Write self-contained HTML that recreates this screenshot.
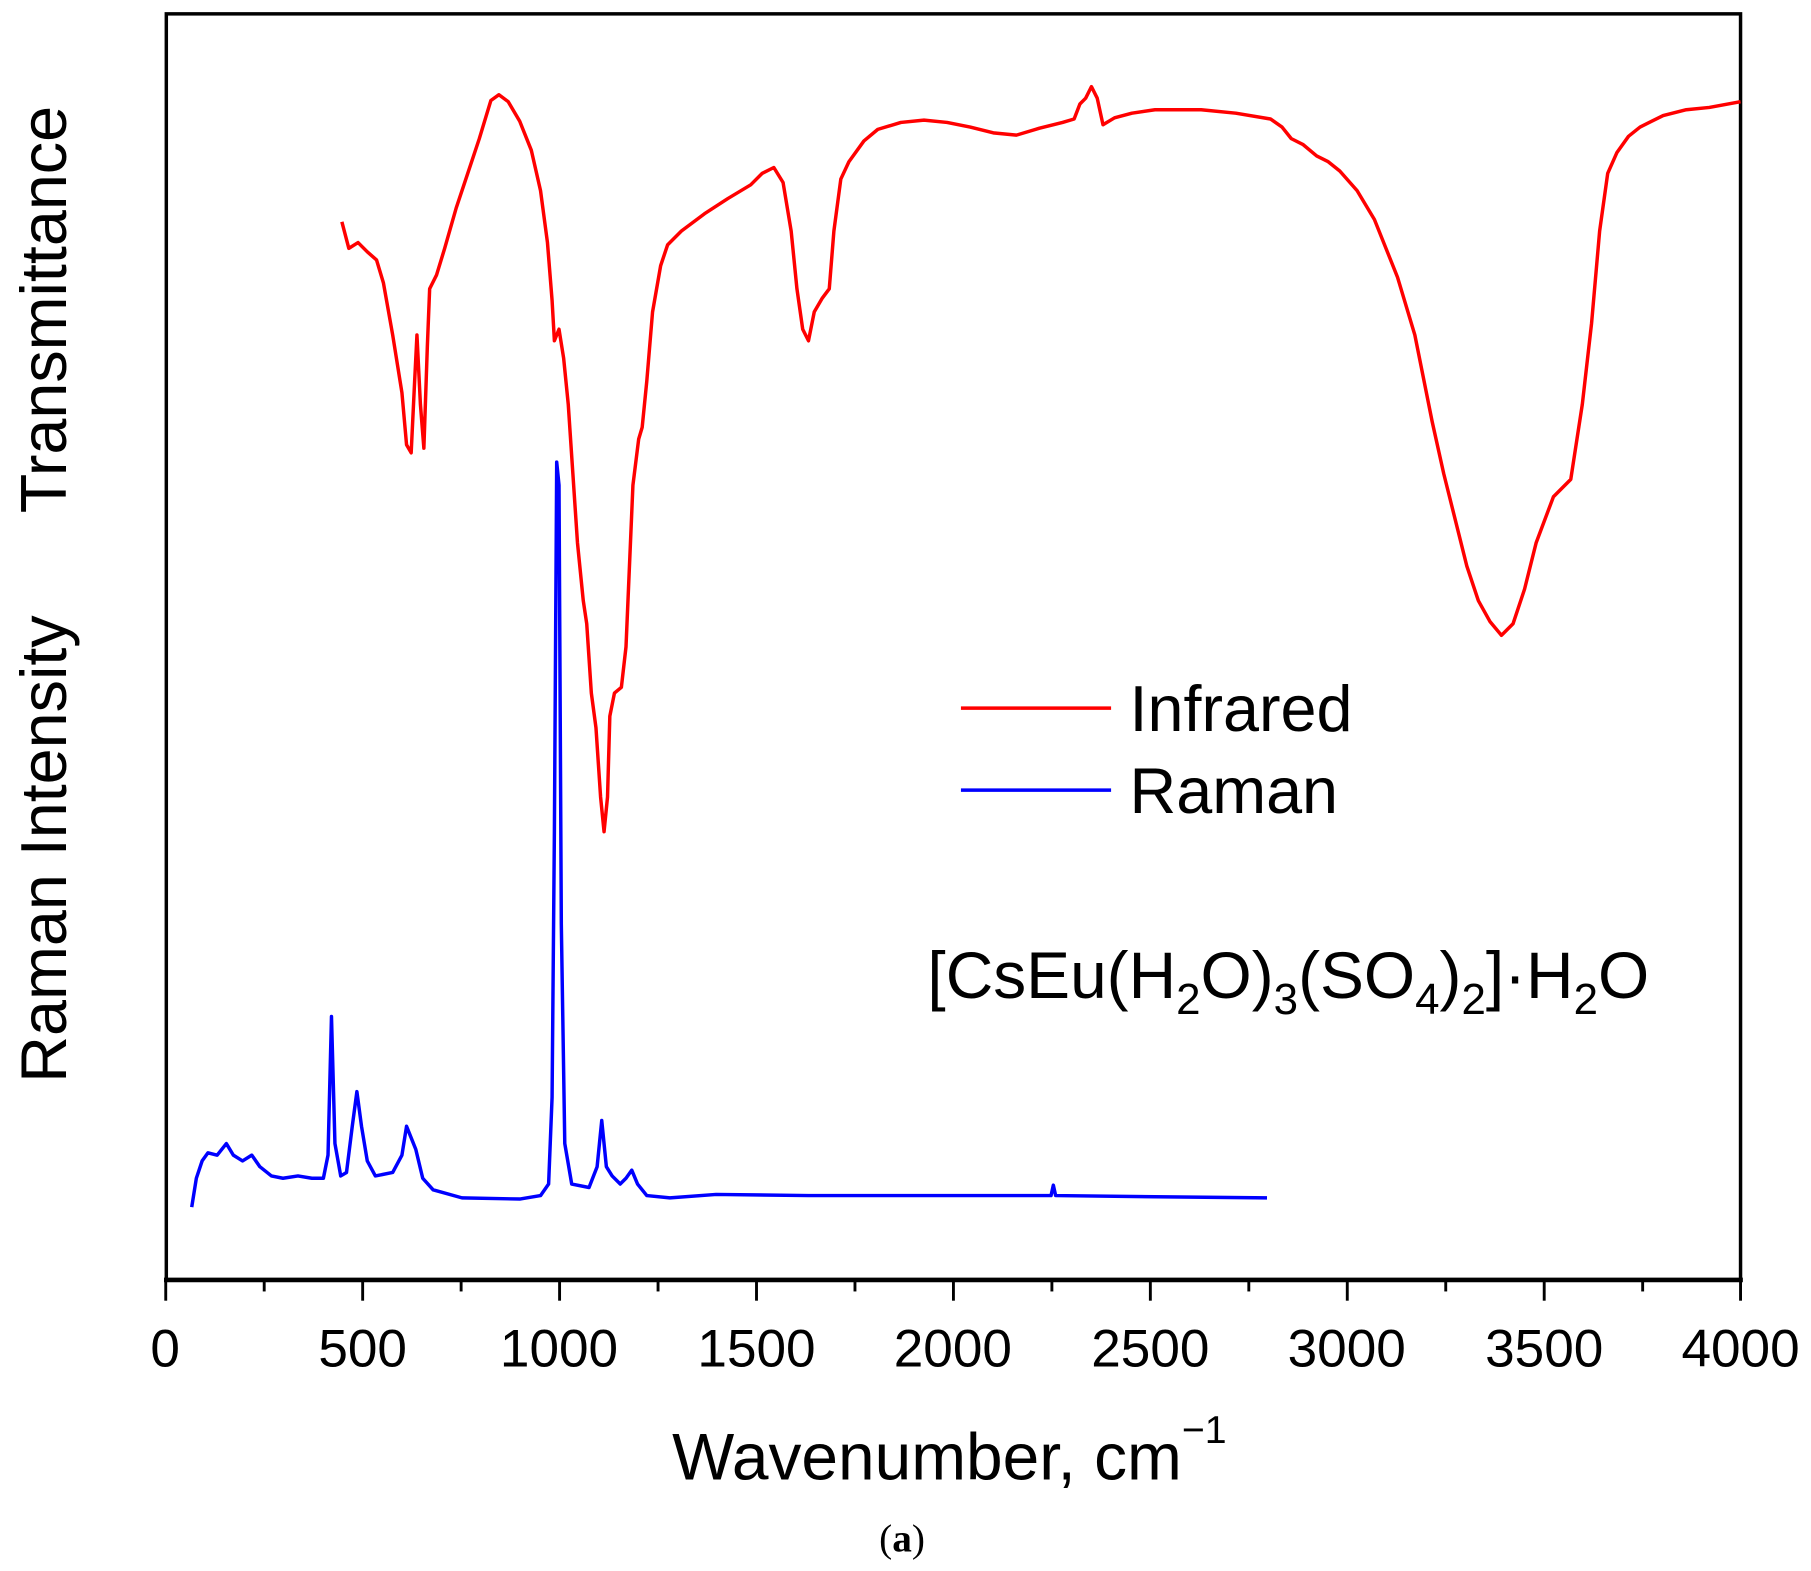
<!DOCTYPE html>
<html><head><meta charset="utf-8"><style>
html,body{margin:0;padding:0;background:#fff;}
svg{display:block;}
text{font-family:"Liberation Sans",Arial,sans-serif;}
</style></head><body>
<svg width="1811" height="1571" viewBox="0 0 1568 1360" preserveAspectRatio="none" xmlns="http://www.w3.org/2000/svg">
<rect x="0" y="0" width="1568" height="1360" fill="#fff"/>
<rect x="144" y="12" width="1363" height="1096" fill="none" stroke="#000" stroke-width="3"/>
<line x1="142" y1="1108" x2="1509" y2="1108" stroke="#000" stroke-width="4"/>
<g stroke="#000" stroke-width="2.5">
<line x1="143.5" y1="1108" x2="143.5" y2="1126"/><line x1="228.75" y1="1108" x2="228.75" y2="1118"/>
<line x1="314" y1="1108" x2="314" y2="1126"/><line x1="399.25" y1="1108" x2="399.25" y2="1118"/>
<line x1="484.5" y1="1108" x2="484.5" y2="1126"/><line x1="569.75" y1="1108" x2="569.75" y2="1118"/>
<line x1="655" y1="1108" x2="655" y2="1126"/><line x1="740.25" y1="1108" x2="740.25" y2="1118"/>
<line x1="825.5" y1="1108" x2="825.5" y2="1126"/><line x1="910.75" y1="1108" x2="910.75" y2="1118"/>
<line x1="996" y1="1108" x2="996" y2="1126"/><line x1="1081.25" y1="1108" x2="1081.25" y2="1118"/>
<line x1="1166.5" y1="1108" x2="1166.5" y2="1126"/><line x1="1251.75" y1="1108" x2="1251.75" y2="1118"/>
<line x1="1337" y1="1108" x2="1337" y2="1126"/><line x1="1422.25" y1="1108" x2="1422.25" y2="1118"/>
<line x1="1507" y1="1108" x2="1507" y2="1126"/>
</g>
<g font-size="46" text-anchor="middle" fill="#000">
<text x="143" y="1183">0</text><text x="314" y="1183">500</text><text x="484" y="1183">1000</text>
<text x="655" y="1183">1500</text><text x="825" y="1183">2000</text><text x="996" y="1183">2500</text>
<text x="1166" y="1183">3000</text><text x="1337" y="1183">3500</text><text x="1507" y="1183">4000</text>
</g>
<text x="582" y="1281" font-size="57" fill="#000">Wavenumber, cm<tspan font-size="34" dy="-32">−1</tspan></text>
<text x="781" y="1343" font-size="34" text-anchor="middle" style="font-family:'Liberation Serif',serif">(<tspan font-weight="bold">a</tspan>)</text>
<text transform="translate(57,268) rotate(-90)" font-size="56" text-anchor="middle" fill="#000">Transmittance</text>
<text transform="translate(57,735) rotate(-90)" font-size="56" text-anchor="middle" fill="#000">Raman Intensity</text>
<line x1="832" y1="613" x2="962" y2="613" stroke="#f00" stroke-width="3"/>
<text x="978" y="633" font-size="56" fill="#000">Infrared</text>
<line x1="832" y1="684" x2="962" y2="684" stroke="#00f" stroke-width="3"/>
<text x="978" y="704" font-size="56" fill="#000">Raman</text>
<text x="803" y="864" font-size="57" fill="#000">[CsEu(H<tspan font-size="38" dy="14">2</tspan><tspan dy="-14">O)</tspan><tspan font-size="38" dy="14">3</tspan><tspan dy="-14">(SO</tspan><tspan font-size="38" dy="14">4</tspan><tspan dy="-14">)</tspan><tspan font-size="38" dy="14">2</tspan><tspan dy="-14">]·H</tspan><tspan font-size="38" dy="14">2</tspan><tspan dy="-14">O</tspan></text>
<polyline fill="none" stroke="#f00" stroke-width="3" stroke-linejoin="round" points="296,192 302,215 310,210 318,218 326,225 332,245 340,290 348,340 352,385 356,392 359,330 361,290 364,350 367,388 370,300 372,250 378,238 385,215 395,180 405,150 415,120 425,87 432,82 440,88 450,105 460,130 468,165 474,210 478,260 480,295 484,285 488,310 492,350 496,410 500,470 505,520 508,540 512,600 516,630 520,690 523,720 526,690 528,620 532,600 538,595 542,560 548,420 553,380 556,370 560,330 565,270 572,230 578,212 590,200 610,185 630,172 650,160 660,150 670,145 678,158 685,200 690,250 695,285 700,295 705,270 712,258 718,250 722,200 728,155 735,140 748,122 760,112 780,106 800,104 820,106 840,110 860,115 880,117 900,111 920,106 930,103 935,90 940,85 945,75 950,85 955,108 965,102 980,98 1000,95 1040,95 1070,98 1100,103 1110,110 1118,120 1128,125 1140,135 1150,140 1160,148 1175,165 1190,190 1210,240 1225,290 1240,365 1250,410 1260,450 1270,490 1280,520 1290,538 1300,550 1310,540 1320,510 1330,470 1345,430 1360,415 1370,350 1378,280 1385,200 1392,150 1400,132 1410,118 1420,110 1440,100 1460,95 1480,93 1507,88"/>
<polyline fill="none" stroke="#00f" stroke-width="3" stroke-linejoin="round" points="166,1045 170,1020 175,1005 180,998 188,1000 196,990 202,1000 210,1005 218,1000 225,1010 235,1018 245,1020 258,1018 270,1020 280,1020 284,1000 287,880 290,990 295,1018 300,1015 305,975 309,945 313,975 318,1005 325,1018 340,1015 348,1000 352,975 356,985 360,995 366,1020 375,1030 400,1037 450,1038 468,1035 475,1025 478,950 480,720 482,400 484,420 486,800 489,990 495,1025 510,1028 517,1010 521,970 525,1010 530,1018 537,1025 542,1020 547,1013 552,1025 560,1035 580,1037 620,1034 700,1035 900,1035 910,1035 912,1026 914,1035 1000,1036 1097,1037"/>
</svg>
</body></html>
